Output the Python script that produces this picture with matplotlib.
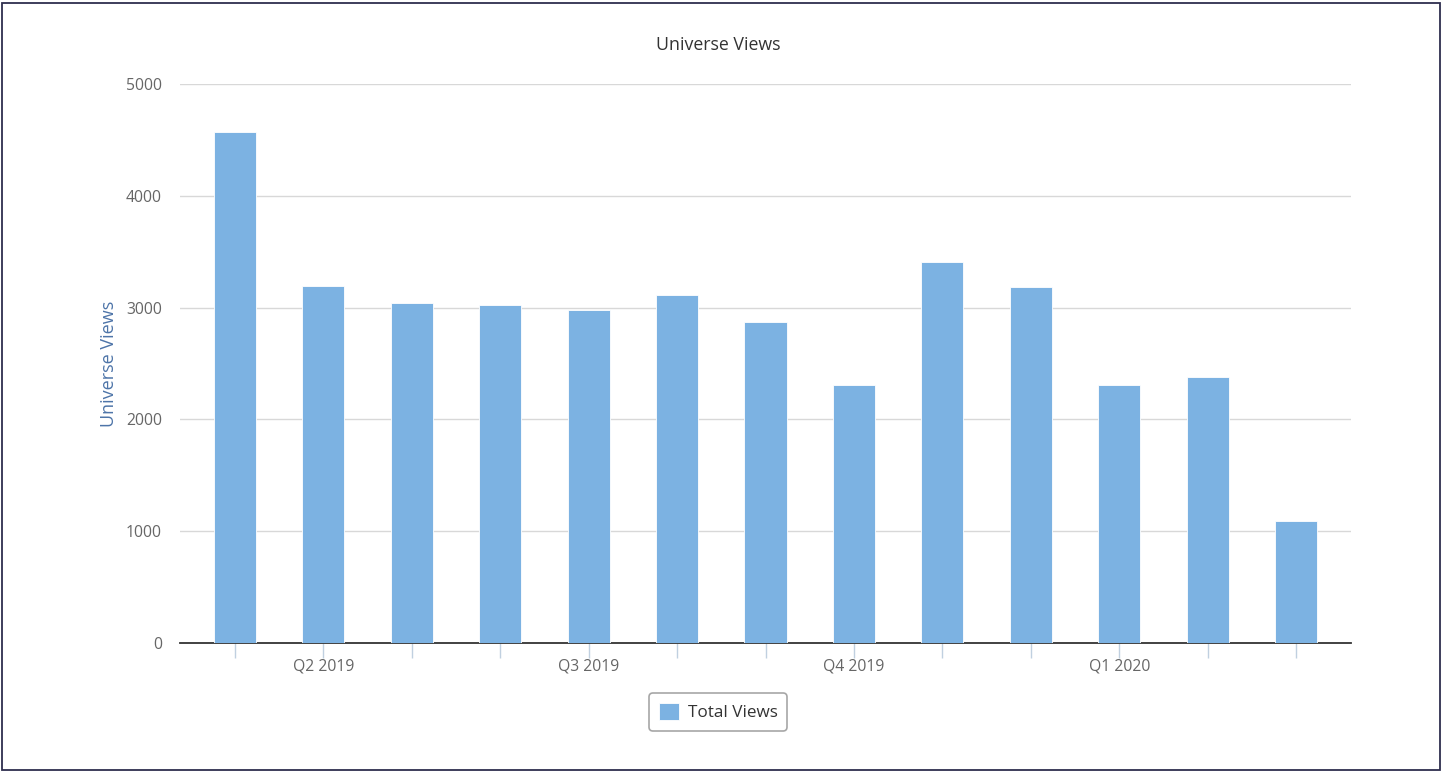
import numpy as np
import matplotlib.pyplot as plt
from matplotlib.patches import Rectangle

# monthly totals, Mar 2019 .. Mar 2020
months = ['2019-03', '2019-04', '2019-05', '2019-06', '2019-07', '2019-08', '2019-09',
          '2019-10', '2019-11', '2019-12', '2020-01', '2020-02', '2020-03']
views = [4570, 3195, 3045, 3020, 2980, 3115, 2875, 2305, 3405, 3185, 2305, 2380, 1090]
quarter_labels = {1: 'Q2 2019', 4: 'Q3 2019', 7: 'Q4 2019', 10: 'Q1 2020'}

plt.rcParams['font.family'] = ['Open Sans', 'DejaVu Sans']

fig = plt.figure(figsize=(14.42, 7.73), dpi=100)
ax = fig.add_axes([180 / 1442, 1 - 643 / 773, 1171 / 1442, 559 / 773])

x = np.arange(len(months))
ax.bar(x, views, width=0.475, color='#7cb2e2', edgecolor='#ffffff', linewidth=0.6,
       label='Total Views', zorder=3)

ax.set_xlim(-0.62, len(months) - 1 + 0.62)
ax.set_ylim(0, 5000)
ax.set_yticks(np.arange(0, 5001, 1000))
ax.yaxis.grid(True, color='#d8d8d8', linewidth=1)
ax.set_axisbelow(True)

ax.set_xticks(x)
ax.set_xticklabels([quarter_labels.get(i, '') for i in x])
ax.tick_params(axis='x', length=11, width=1, color='#c0d0e0', labelsize=11.3,
               labelcolor='#666666', pad=0)
ax.tick_params(axis='y', length=0, labelsize=11.3, labelcolor='#666666', pad=13)

for side in ['top', 'right', 'left']:
    ax.spines[side].set_visible(False)
ax.spines['bottom'].set_color('#333333')
ax.spines['bottom'].set_linewidth(1.3)

ax.set_ylabel('Universe Views', fontsize=13, color='#4d74a8', labelpad=6)
fig.text(718 / 1442, 1 - 45 / 773, 'Universe Views', fontsize=12.8, color='#333333',
         ha='center', va='center')

leg = fig.legend(loc='center', bbox_to_anchor=(718 / 1442, 1 - 712 / 773),
                 fontsize=12.3, frameon=True, fancybox=True, edgecolor='#909090',
                 handlelength=1.2, handleheight=1.2, handletextpad=0.5,
                 borderpad=0.55, labelcolor='#333333')
leg.get_frame().set_linewidth(1.2)

# outer frame
fig.patches.append(Rectangle((2 / 1442, 3 / 773), 1438 / 1442, 767 / 773,
                             transform=fig.transFigure, fill=False,
                             edgecolor='#2e2e4e', linewidth=1.3))

fig.savefig('out.png', dpi=100)
